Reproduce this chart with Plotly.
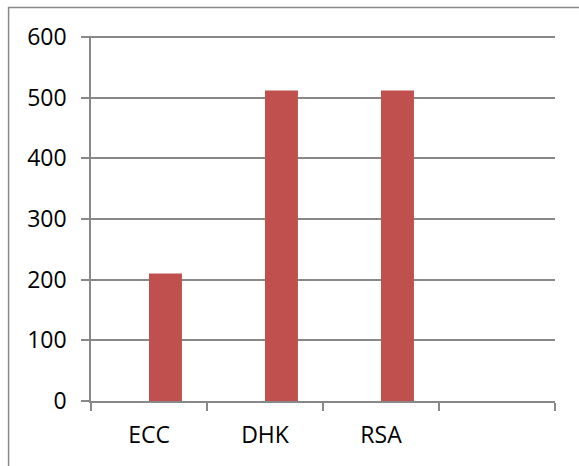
import plotly.graph_objects as go

categories = ["ECC", "DHK", "RSA", " "]
values = [210, 512, 512, None]
y_ticks = [0, 100, 200, 300, 400, 500, 600]

GRID = "#888888"
FONT = dict(family="Open Sans", size=23, color="#000000")

fig = go.Figure()
fig.add_trace(go.Bar(
    x=categories, y=values,
    width=0.284, offset=0,
    marker=dict(color="#C0504D", line=dict(width=0)),
    showlegend=False,
))

fig.update_layout(
    width=579, height=466,
    margin=dict(l=91, r=24, t=36, b=65),
    paper_bgcolor="white", plot_bgcolor="white",
    font=FONT,
    xaxis=dict(
        type="category", categoryorder="array", categoryarray=categories,
        range=[-0.5, 3.5],
        showgrid=False, showline=True, linecolor=GRID, linewidth=1.5,
        ticks="outside", tickson="boundaries", ticklen=8, tickcolor=GRID, tickwidth=1.5,
        ticklabelstandoff=13, tickfont=FONT,
    ),
    yaxis=dict(
        range=[0, 601.7], tickvals=y_ticks,
        showgrid=True, gridcolor=GRID, gridwidth=1.5,
        showline=True, linecolor=GRID, linewidth=1.5,
        zeroline=False,
        ticks="outside", ticklen=8, tickcolor=GRID, tickwidth=1.5,
        ticklabelstandoff=10, tickfont=FONT,
    ),
    shapes=[dict(
        type="rect", xref="paper", yref="paper",
        x0=-0.1776, x1=1.3, y0=-0.4, y1=1.078,
        line=dict(color=GRID, width=1.5), fillcolor="rgba(0,0,0,0)", layer="above",
    )],
)

fig.write_html("out.html")
